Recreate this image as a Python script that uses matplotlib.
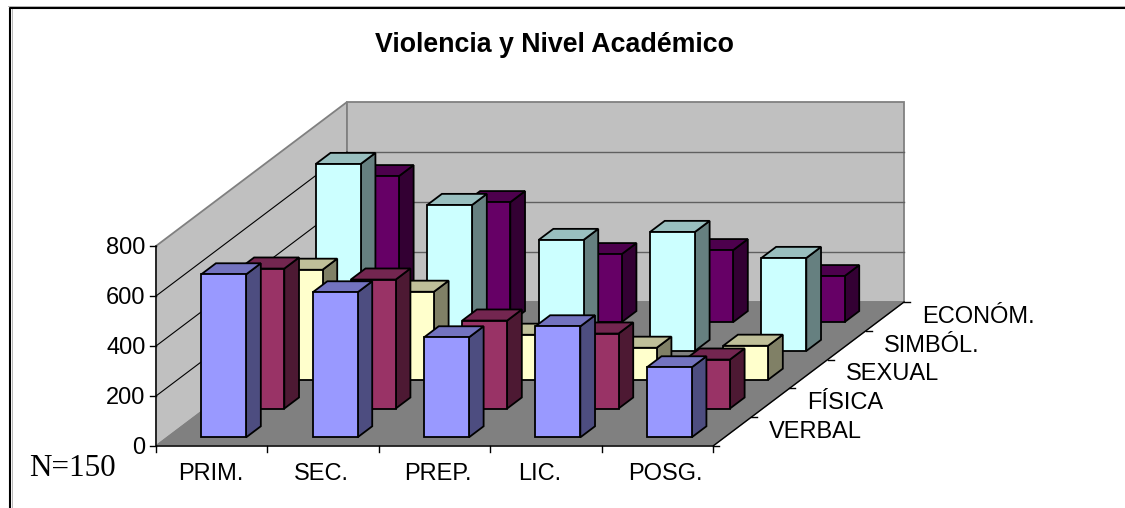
import matplotlib
matplotlib.use("Agg")
import matplotlib.pyplot as plt
from matplotlib.patches import Polygon

# values per academic level, one list per type of violence
levels = ["PRIM.", "SEC.", "PREP.", "LIC.", "POSG."]
types = ["VERBAL", "FÍSICA", "SEXUAL", "SIMBÓL.", "ECONÓM."]
verbal = [652, 580, 400, 444, 280]
fisica = [560, 516, 352, 300, 196]
sexual = [440, 352, 180, 128, 136]
simbolica = [748, 584, 444, 476, 372]
economica = [584, 480, 272, 288, 184]
y_ticks = [0, 200, 400, 600, 800]

series = [verbal, fisica, sexual, simbolica, economica]
# front, top and side colours of each series
colors = [
    ("#9999FF", "#7373BF", "#4D4D80"),
    ("#993366", "#732650", "#4D1933"),
    ("#FFFFCC", "#BFBF99", "#808066"),
    ("#CCFFFF", "#99BFBF", "#668080"),
    ("#660066", "#4D004D", "#330033"),
]

# oblique projection, screen pixels
X0, Y0 = 156, 446
CAT_W = 111.4
DEPTH_DX = 38.2
DEPTH_DY = 28.8
PX_PER_UNIT = 0.25
BAR_W = 0.403
BAR_D = 0.385
MARGIN = 0.303
label_nudge = [-1, -1.5, 3, -6, 8]  # the level labels are not evenly spaced


def project(cat, ser, val):
    return (X0 + cat * CAT_W + ser * DEPTH_DX,
            Y0 - ser * DEPTH_DY - val * PX_PER_UNIT)


fig = plt.figure(figsize=(11.25, 5.08), dpi=100)
ax = fig.add_axes([0, 0, 1, 1])
ax.set_xlim(0, 1125)
ax.set_ylim(508, 0)
ax.axis("off")

n_cat = len(levels)
n_ser = len(types)
top = y_ticks[-1]


def face(points, fill, edge="black", lw=1.3, z=1):
    ax.add_patch(Polygon(points, closed=True, facecolor=fill, edgecolor=edge,
                         linewidth=lw, joinstyle="miter", zorder=z))


# walls and floor
face([project(0, 0, 0), project(0, n_ser, 0), project(0, n_ser, top), project(0, 0, top)],
     "#C0C0C0", "#808080", 1.3)
face([project(0, n_ser, 0), project(n_cat, n_ser, 0), project(n_cat, n_ser, top), project(0, n_ser, top)],
     "#C0C0C0", "#808080", 1.3)
face([project(0, 0, 0), project(n_cat, 0, 0), project(n_cat, n_ser, 0), project(0, n_ser, 0)],
     "#808080", "#808080", 1.0)

# gridlines
for v in y_ticks[1:-1]:
    pts = [project(0, 0, v), project(0, n_ser, v), project(n_cat, n_ser, v)]
    ax.plot([pts[0][0], pts[1][0]], [pts[0][1], pts[1][1]], color="black", lw=0.8, zorder=2)
    ax.plot([pts[1][0], pts[2][0]], [pts[1][1], pts[2][1]], color="#606060", lw=1.0, zorder=2)

# bars, back row first
z = 3
for s in range(n_ser - 1, -1, -1):
    for c in range(n_cat):
        v = series[s][c]
        c0, c1 = c + MARGIN, c + MARGIN + BAR_W
        s0, s1 = s + 0.3, s + 0.3 + BAR_D
        face([project(c1, s0, 0), project(c1, s1, 0), project(c1, s1, v), project(c1, s0, v)],
             colors[s][2], z=z)
        face([project(c0, s0, v), project(c1, s0, v), project(c1, s1, v), project(c0, s1, v)],
             colors[s][1], z=z)
        face([project(c0, s0, 0), project(c1, s0, 0), project(c1, s0, v), project(c0, s0, v)],
             colors[s][0], z=z)
        z += 1

# axes and tick marks
axis_z = 1.5
p = [project(0, 0, top), project(0, 0, 0), project(n_cat, 0, 0), project(n_cat, n_ser, 0)]
ax.plot([q[0] for q in p], [q[1] for q in p], color="black", lw=1.0, zorder=axis_z)

for v in y_ticks:
    x, y = project(0, 0, v)
    ax.plot([x - 6, x], [y, y], color="black", lw=1.0, zorder=axis_z)
    ax.text(x - 10.5, y + 8, str(v), ha="right", va="baseline", family="Liberation Sans",
            fontsize=17, color="black")
for c in range(n_cat + 1):
    x, y = project(c, 0, 0)
    ax.plot([x, x], [y, y + 6], color="black", lw=1.0, zorder=axis_z)
for c, name in enumerate(levels):
    x, y = project(c + 0.5, 0, 0)
    ax.text(x + label_nudge[c], y + 34, name, ha="center", va="baseline", family="Liberation Sans",
            fontsize=17, color="black")
for s in range(n_ser + 1):
    x, y = project(n_cat, s, 0)
    ax.plot([x, x + 6], [y, y], color="black", lw=1.0, zorder=axis_z)
for s, name in enumerate(types):
    x, y = project(n_cat, s + 0.5, 0)
    ax.text(x + 37, y + 6.5, name, ha="left", va="baseline", family="Liberation Sans",
            fontsize=17, color="black")

ax.text(554, 52, "Violencia y Nivel Académico", ha="center", va="baseline",
        family="Liberation Sans", fontweight="bold", fontsize=19.3, color="black")
ax.text(29, 476, "N=150", ha="left", va="baseline", family="Liberation Serif",
        fontsize=22.4, color="black")

# chart frame: left and top edges only, with a faint grey shadow
ax.plot([11.5, 11.5], [9, 508], color="#B8B8B8", lw=0.7, zorder=1)
ax.plot([8, 1125], [5.5, 5.5], color="#B8B8B8", lw=0.7, zorder=1)
ax.plot([9.5, 9.5, 1125], [508, 7.5, 7.5], color="black", lw=1.5, zorder=1)

fig.savefig("out.png", dpi=100)
